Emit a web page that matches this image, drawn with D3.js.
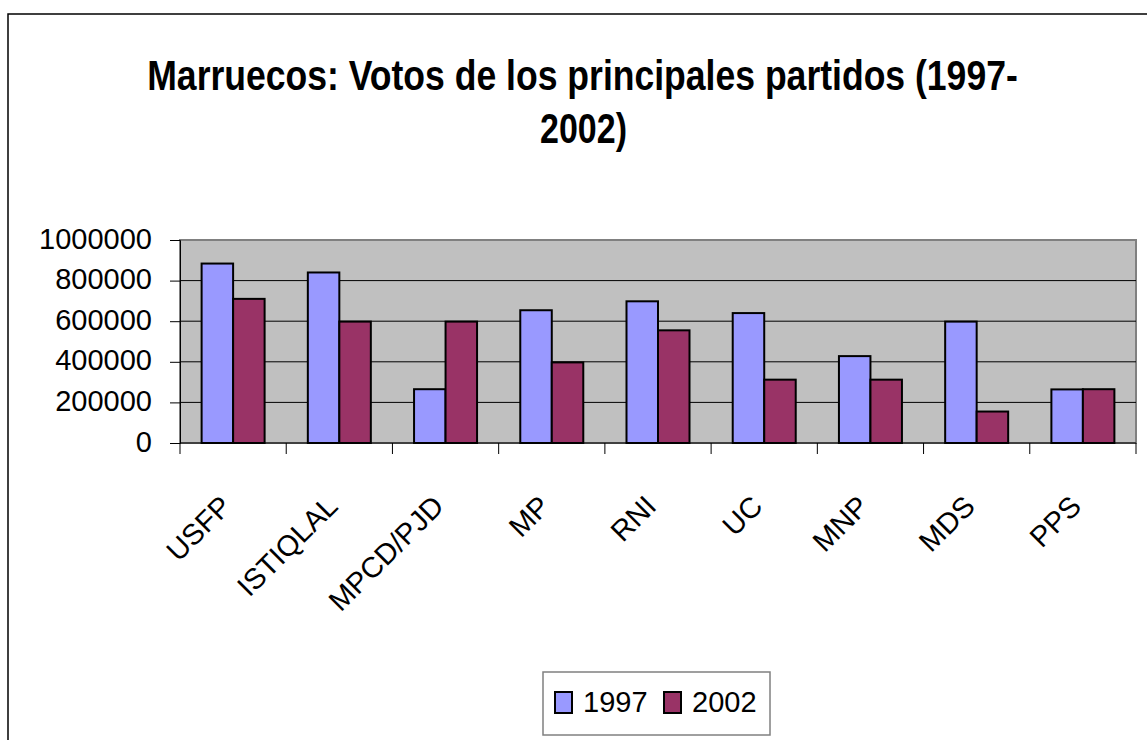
<!DOCTYPE html>
<html>
<head>
  <meta charset="utf-8">
  <title>Marruecos: Votos de los principales partidos</title>
  <style>
  body { margin: 0; background: #fff; }
  text { font-family: "Liberation Sans", Arial, sans-serif; fill: #000; }
  .title { font-size: 43px; font-weight: bold; }
  .tick text, .xlabel, .legend text { font-size: 29px; }
  .grid { stroke: #000; stroke-width: 1; }
  .bar { stroke: #000; stroke-width: 2; }
  </style>
</head>
<body>
<script src="https://d3js.org/d3.v7.min.js"></script>
<script>
// values
var partidos = ["USFP", "ISTIQLAL", "MPCD/PJD", "MP", "RNI", "UC", "MNP", "MDS", "PPS"];
var anios = ["1997", "2002"];
var votos1997 = [884000, 840000, 265000, 654000, 698000, 640000, 428000, 598000, 264000];
var votos2002 = [710000, 598000, 598000, 397000, 555000, 312000, 312000, 155000, 265000];
var colores = ["#9999FF", "#993366"];
var titulo = ["Marruecos: Votos de los principales partidos (1997-", "2002)"];

var width = 1147, height = 740;
var plot = {left: 180, right: 1136, top: 240, bottom: 443};

var svg = d3.select("body").append("svg")
    .attr("width", width)
    .attr("height", height);

// outer chart border (runs off the right / bottom of the picture)
svg.append("rect")
    .attr("x", 8).attr("y", 14)
    .attr("width", 1300).attr("height", 900)
    .attr("fill", "#fff")
    .attr("stroke", "#000")
    .attr("stroke-width", 1.5);

// title, squeezed horizontally like the original
var lineas = [{t: titulo[0], x: 582.5, y: 90, w: 871}, {t: titulo[1], x: 583.5, y: 143, w: 87}];
lineas.forEach(function(l) {
  var g = svg.append("g");
  var t = g.append("text").attr("class", "title")
      .attr("text-anchor", "middle")
      .text(l.t);
  var sx = l.w / t.node().getComputedTextLength();
  g.attr("transform", "translate(" + l.x + "," + l.y + ") scale(" + sx + ",1)");
});

var x0 = d3.scaleBand()
    .domain(partidos)
    .range([plot.left, plot.right]);

var x1 = d3.scaleBand()
    .domain(anios)
    .range([0, x0.bandwidth()])
    .paddingOuter(0.686);

var y = d3.scaleLinear()
    .domain([0, 1000000])
    .range([plot.bottom, plot.top]);

// plot area
svg.append("rect")
    .attr("x", plot.left).attr("y", plot.top)
    .attr("width", plot.right - plot.left)
    .attr("height", plot.bottom - plot.top)
    .attr("fill", "#C0C0C0")
    .attr("stroke", "#808080")
    .attr("stroke-width", 2);

svg.append("g").selectAll("line")
    .data([200000, 400000, 600000, 800000])
  .enter().append("line")
    .attr("class", "grid")
    .attr("x1", plot.left).attr("x2", plot.right)
    .attr("y1", function(d) { return y(d); })
    .attr("y2", function(d) { return y(d); });

// bars
var filas = partidos.map(function(p, i) {
  return {partido: p, valores: [votos1997[i], votos2002[i]]};
});

var grupos = svg.append("g").selectAll("g")
    .data(filas)
  .enter().append("g")
    .attr("transform", function(d) { return "translate(" + x0(d.partido) + ",0)"; });

grupos.selectAll("rect")
    .data(function(d) { return d.valores.map(function(v, j) { return {anio: anios[j], v: v, j: j}; }); })
  .enter().append("rect")
    .attr("class", "bar")
    .attr("x", function(d) { return x1(d.anio); })
    .attr("width", x1.bandwidth())
    .attr("y", function(d) { return y(d.v); })
    .attr("height", function(d) { return y(0) - y(d.v); })
    .attr("fill", function(d) { return colores[d.j]; });

// y axis
var yAxis = svg.append("g")
    .attr("transform", "translate(" + plot.left + ",0)")
    .call(d3.axisLeft(y).ticks(5).tickSize(10).tickPadding(18).tickFormat(d3.format("d")));
yAxis.select(".domain").attr("stroke", "#000");
yAxis.selectAll(".tick text")
    .attr("font-family", null).attr("font-size", null)
    .attr("dy", "0.28em");

// x axis: line, ticks at category borders, rotated labels
svg.append("line")
    .attr("x1", plot.left).attr("x2", plot.right)
    .attr("y1", plot.bottom).attr("y2", plot.bottom)
    .attr("stroke", "#000");

var bordes = partidos.map(function(p) { return x0(p); }).concat([plot.right]);
svg.append("g").selectAll("line")
    .data(bordes)
  .enter().append("line")
    .attr("x1", function(d) { return d; }).attr("x2", function(d) { return d; })
    .attr("y1", plot.bottom).attr("y2", plot.bottom + 11)
    .attr("stroke", "#000");

svg.append("g").selectAll("text")
    .data(partidos)
  .enter().append("text")
    .attr("class", "xlabel")
    .attr("text-anchor", "end")
    .attr("transform", function(d) {
      return "translate(" + (x0(d) + x0.bandwidth() / 2) + "," + (plot.bottom + 65) + ") rotate(-45)";
    })
    .text(function(d) { return d; });

// legend
var legend = svg.append("g").attr("class", "legend");
legend.append("rect")
    .attr("x", 543).attr("y", 672)
    .attr("width", 227).attr("height", 63)
    .attr("fill", "#fff")
    .attr("stroke", "#808080")
    .attr("stroke-width", 1.5);

var items = legend.selectAll("g")
    .data(anios)
  .enter().append("g")
    .attr("transform", function(d, i) { return "translate(" + (555 + i * 109) + ",0)"; });
items.append("rect")
    .attr("x", 0).attr("y", 692)
    .attr("width", 17).attr("height", 21)
    .attr("fill", function(d, i) { return colores[i]; })
    .attr("stroke", "#000")
    .attr("stroke-width", 2);
items.append("text")
    .attr("x", 28).attr("y", 712)
    .text(function(d) { return d; });
</script>
</body>
</html>
